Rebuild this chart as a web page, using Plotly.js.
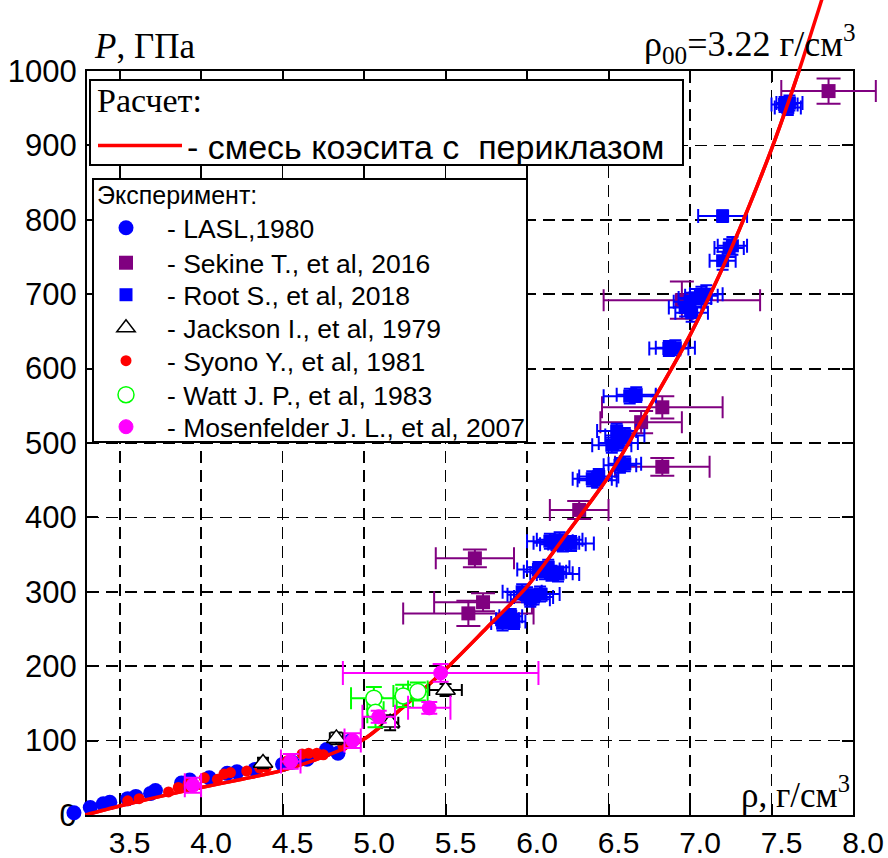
<!DOCTYPE html>
<html><head><meta charset="utf-8">
<script src="https://cdn.plot.ly/plotly-3.0.1.min.js"></script>
<style>html,body{margin:0;padding:0;background:#fff}#chart{width:888px;height:858px}</style>
</head><body><div id="chart"></div>
<script>
// ---- data ----
const curveRho = [3.29, 3.5, 3.75, 4.0, 4.25, 4.5, 4.75, 5.0, 5.25, 5.5, 5.75, 6.0, 6.25, 6.5, 6.75, 7.0, 7.25, 7.5, 7.65, 7.8, 7.85];
const curveP   = [0, 12, 25, 37, 48, 60, 78, 102, 147, 196, 251, 307, 380, 455, 548, 645, 760, 895, 988, 1090, 1125];

const laslRho = [3.22, 3.32, 3.40, 3.44, 3.55, 3.60, 3.69, 3.72, 3.88, 3.93, 4.05, 4.16, 4.22, 4.33, 4.50, 4.56, 4.65, 4.77, 4.84, 4.92];
const laslP   = [3, 10, 15, 17, 22, 25, 29, 33, 43, 47, 50, 56, 58, 61, 68, 71, 75, 88, 83, 100];

const syonoRho = [3.55, 3.62, 3.80, 3.86, 3.92, 4.02, 4.10, 4.14, 4.18, 4.28, 4.36, 4.40, 4.53, 4.62, 4.66, 4.71, 4.75, 4.87, 4.92];
const syonoP   = [19, 22, 31, 37, 42, 50, 48, 55, 57, 59, 63, 64, 73, 82, 83, 83, 81, 93, 96];

const sekineRho  = [5.64, 5.68, 5.73, 6.32, 6.70, 6.83, 6.83, 6.95, 7.85];
const sekineP    = [271, 345, 286, 410, 528, 468, 548, 692, 973];
const sekineRhoE = [0.40, 0.24, 0.30, 0.18, 0.25, 0.29, 0.37, 0.48, 0.29];
const sekinePE   = [17, 12, 12, 12, 15, 12, 15, 25, 17];

const rootRho  = [5.85, 5.88, 5.92, 5.90, 5.97, 6.00, 6.04, 6.08, 6.02, 6.07, 6.11, 6.15, 6.19, 6.13, 6.14, 6.18, 6.22, 6.27, 6.20, 6.40, 6.44, 6.43, 6.57, 6.60, 6.52, 6.56, 6.55, 6.60, 6.63, 6.67, 6.87, 6.91, 6.97, 7.00, 7.03, 7.07, 7.10, 7.01, 7.20, 7.26, 7.24, 7.20, 7.58, 7.61, 7.60];
const rootP    = [258, 263, 260, 267, 300, 296, 293, 297, 290, 330, 327, 325, 324, 333, 368, 366, 364, 365, 370, 452, 455, 450, 470, 472, 497, 500, 516, 510, 563, 565, 627, 628, 682, 690, 695, 698, 700, 675, 745, 765, 762, 805, 955, 957, 951];
const rootRhoE = [0.07, 0.07, 0.07, 0.07, 0.12, 0.12, 0.12, 0.12, 0.12, 0.13, 0.13, 0.13, 0.13, 0.13, 0.14, 0.14, 0.14, 0.14, 0.14, 0.12, 0.12, 0.12, 0.10, 0.10, 0.12, 0.12, 0.12, 0.12, 0.16, 0.12, 0.12, 0.12, 0.10, 0.10, 0.10, 0.10, 0.10, 0.10, 0.08, 0.09, 0.09, 0.15, 0.08, 0.08, 0.08];
const rootPE   = [10, 10, 10, 10, 10, 10, 10, 10, 10, 10, 10, 10, 10, 10, 10, 10, 10, 10, 10, 10, 10, 10, 10, 10, 10, 10, 10, 10, 10, 10, 10, 10, 12, 12, 12, 12, 12, 12, 12, 12, 12, 8, 10, 10, 10];

const jacksonRho  = [4.38, 4.83, 5.16, 5.50];
const jacksonP    = [70, 103, 124, 168];
const jacksonRhoE = [0.03, 0.04, 0.05, 0.10];
const jacksonPE   = [7, 8, 10, 8];

const wattRho  = [5.06, 5.07, 5.24, 5.33];
const wattP    = [157, 138, 160, 166];
const wattRhoE = [0.14, 0.05, 0.06, 0.06];
const wattPE   = [15, 20, 15, 12];

const mosRho  = [3.95, 4.55, 4.93, 5.09, 5.40, 5.47];
const mosP    = [40, 72, 100, 132, 144, 191];
const mosRhoE = [0.05, 0.06, 0.05, 0.10, 0.13, 0.60];
const mosPE   = [10, 10, 10, 8, 8, 12];

const xTicks = [3.5, 4.0, 4.5, 5.0, 5.5, 6.0, 6.5, 7.0, 7.5, 8.0];
const xTickText = ['3.5', '4.0', '4.5', '5.0', '5.5', '6.0', '6.5', '7.0', '7.5', '8.0'];
const yTicks = [0, 100, 200, 300, 400, 500, 600, 700, 800, 900, 1000];
const yTickText = ['0', '100', '200', '300', '400', '500', '600', '700', '800', '900', '1000'];

const names = {
  calc: '- смесь коэсита с\u00a0\u00a0периклазом',
  lasl: '- LASL,1980',
  sekine: '- Sekine T., et al, 2016',
  root: '- Root S., et al, 2018',
  jackson: '- Jackson I., et al, 1979',
  syono: '- Syono Y., et al, 1981',
  watt: '- Watt J. P., et al, 1983',
  mos: '- Mosenfelder J. L., et al, 2007'
};

// ---- geometry (pixels) ----
const W = 888, H = 858, PL = 87, PR = 853, PT = 71, PB = 815;
const paperH = PB;                       // margins: top 0, bottom H-PB, left/right 0
const mainTop = (PB - PT) / paperH;
const pxPerRho = (PR - PL) / (8.0 - 3.3);
const wideX = [3.3 - PL / pxPerRho, 8.0 + (W - PR) / pxPerRho];
const y2Max = 1000 + PT * 1000 / (PB - PT);
const px = v => v / W;
const py = v => 1 - v / paperH;

const SANS = 'Liberation Sans, Arial, sans-serif';
const SERIF = 'Liberation Serif, Times New Roman, serif';
const curveLine = {color: '#ff0000', width: 3.5, shape: 'spline', smoothing: 0.8};

function eb(arr, color, width) {
  return {type: 'data', array: arr, visible: true, color: color, thickness: 2, width: width};
}

const traces = [
  {x: curveRho, y: curveP, type: 'scatter', mode: 'lines', name: names.calc, legend: 'legend', line: curveLine},
  {x: laslRho, y: laslP, type: 'scatter', mode: 'markers', name: names.lasl, legend: 'legend2',
   xaxis: 'x3', yaxis: 'y3', cliponaxis: false, marker: {symbol: 'circle', size: 15, color: '#0000ff'}},
  {x: syonoRho, y: syonoP, type: 'scatter', mode: 'markers', name: names.syono, legend: 'legend6',
   xaxis: 'x3', yaxis: 'y3', marker: {symbol: 'circle', size: 11, color: '#ff0000'}},
  {x: sekineRho, y: sekineP, type: 'scatter', mode: 'markers', name: names.sekine, legend: 'legend3',
   xaxis: 'x3', yaxis: 'y3', marker: {symbol: 'square', size: 14, color: '#800080'},
   error_x: eb(sekineRhoE, '#800080', 11), error_y: eb(sekinePE, '#800080', 12)},
  {x: rootRho, y: rootP, type: 'scatter', mode: 'markers', name: names.root, legend: 'legend4',
   xaxis: 'x3', yaxis: 'y3', marker: {symbol: 'square', size: 13, color: '#0000ff'},
   error_x: eb(rootRhoE, '#0000ff', 7), error_y: eb(rootPE, '#0000ff', 6)},
  // calculated curve drawn again above the shock data (same arrays)
  {x: curveRho, y: curveP, type: 'scatter', mode: 'lines', xaxis: 'x3', yaxis: 'y3', showlegend: false,
   line: curveLine, hoverinfo: 'skip'},
  {x: jacksonRho, y: jacksonP, type: 'scatter', mode: 'markers', name: names.jackson, legend: 'legend5',
   xaxis: 'x3', yaxis: 'y3', marker: {symbol: 'triangle-up', size: 17, color: '#ffffff', line: {color: '#000000', width: 1.5}},
   error_x: eb(jacksonRhoE, '#000000', 6), error_y: eb(jacksonPE, '#000000', 6)},
  {x: wattRho, y: wattP, type: 'scatter', mode: 'markers', name: names.watt, legend: 'legend7',
   xaxis: 'x3', yaxis: 'y3', marker: {symbol: 'circle', size: 16, color: '#ffffff', line: {color: '#00ff00', width: 1.5}},
   error_x: eb(wattRhoE, '#00ff00', 11), error_y: eb(wattPE, '#00ff00', 8)},
  {x: mosRho, y: mosP, type: 'scatter', mode: 'markers', name: names.mos, legend: 'legend8',
   xaxis: 'x3', yaxis: 'y3', marker: {symbol: 'circle', size: 14, color: '#ff00ff', line: {color: '#ff00ff', width: 1}},
   error_x: eb(mosRhoE, '#ff00ff', 12), error_y: eb(mosPE, '#ff00ff', 8)},
  // same calculated curve, continued above the frame
  {x: curveRho, y: curveP, type: 'scatter', mode: 'lines', xaxis: 'x2', yaxis: 'y2', showlegend: false,
   line: curveLine, hoverinfo: 'skip'}
];

const axisCommon = {
  showline: true, linecolor: '#000', linewidth: 2, mirror: 'ticks',
  ticks: 'inside', ticklen: 11, tickwidth: 2, tickcolor: '#000',
  showgrid: true, gridcolor: '#000', gridwidth: 1.8, griddash: '12px,7px',
  zeroline: false, tickmode: 'array',
  tickfont: {family: SANS, size: 30, color: '#000'}
};
const hidden = {visible: false, showgrid: false, zeroline: false};

function rowLegend(yc) {
  return {x: px(85), y: py(yc), xanchor: 'left', yanchor: 'middle', xref: 'paper', yref: 'paper',
          bgcolor: 'rgba(0,0,0,0)', borderwidth: 0, itemwidth: 72,
          font: {family: SANS, size: 26.5, color: '#000'}};
}

const layout = {
  width: W, height: H,
  margin: {l: 0, r: 0, t: 0, b: H - PB, pad: 0},
  paper_bgcolor: '#fff', plot_bgcolor: 'rgba(0,0,0,0)',
  showlegend: true,
  xaxis: Object.assign({}, axisCommon, {range: [3.3, 8.0], tickvals: xTicks, ticktext: xTickText,
    domain: [PL / W, PR / W], anchor: 'y', ticklabelshift: 10}),
  yaxis: Object.assign({}, axisCommon, {range: [0, 1000], tickvals: yTicks, ticktext: yTickText,
    domain: [0, mainTop], anchor: 'x', ticklabelstandoff: 2, tickfont: {family: SANS, size: 31, color: '#000'}}),
  xaxis2: Object.assign({range: [3.3, 8.0], domain: [PL / W, PR / W], anchor: 'y2'}, hidden),
  yaxis2: Object.assign({range: [1000, y2Max], domain: [mainTop, 1], anchor: 'x2'}, hidden),
  xaxis3: Object.assign({range: wideX, domain: [0, 1], anchor: 'y3'}, hidden),
  yaxis3: Object.assign({range: [0, 1000], domain: [0, mainTop], anchor: 'x3'}, hidden),
  legend: {x: px(93), y: py(146), xanchor: 'left', yanchor: 'middle', xref: 'paper', yref: 'paper',
    bgcolor: 'rgba(0,0,0,0)', borderwidth: 0, itemwidth: 84,
    font: {family: SANS, size: 34, color: '#000'}},
  legend2: rowLegend(228),
  legend3: rowLegend(263),
  legend4: rowLegend(295),
  legend5: rowLegend(328),
  legend6: rowLegend(361),
  legend7: rowLegend(395),
  legend8: rowLegend(427),
  shapes: [
    {type: 'rect', xref: 'paper', yref: 'paper', x0: px(90), x1: px(683), y0: py(165), y1: py(80),
     line: {color: '#000', width: 2}, fillcolor: '#fff', layer: 'above'},
    {type: 'rect', xref: 'paper', yref: 'paper', x0: px(93), x1: px(527), y0: py(442), y1: py(179),
     line: {color: '#000', width: 2}, fillcolor: '#fff', layer: 'above'}
  ],
  annotations: [
    {xref: 'paper', yref: 'paper', x: px(95), y: py(101), xanchor: 'left', yanchor: 'middle', showarrow: false,
     text: 'Расчет:', font: {family: SERIF, size: 34, color: '#000'}},
    {xref: 'paper', yref: 'paper', x: px(95), y: py(195), xanchor: 'left', yanchor: 'middle', showarrow: false,
     text: 'Эксперимент:', font: {family: SANS, size: 25, color: '#000'}},
    {xref: 'paper', yref: 'paper', x: px(92), y: py(46), xanchor: 'left', yanchor: 'middle', showarrow: false,
     text: '<i>P</i>, ГПа', font: {family: SERIF, size: 35, color: '#000'}},
    {xref: 'paper', yref: 'paper', x: px(858), y: py(44), xanchor: 'right', yanchor: 'middle', showarrow: false,
     text: 'ρ<sub>00</sub>=3.22 г/см<sup>3</sup>', font: {family: SERIF, size: 36, color: '#000'}},
    {xref: 'paper', yref: 'paper', x: px(852), y: py(792), xanchor: 'right', yanchor: 'middle', showarrow: false,
     text: 'ρ, г/см<sup>3</sup>', font: {family: SERIF, size: 35, color: '#000'}}
  ]
};

Plotly.newPlot('chart', traces, layout, {displayModeBar: false, staticPlot: true});
</script>
</body></html>
